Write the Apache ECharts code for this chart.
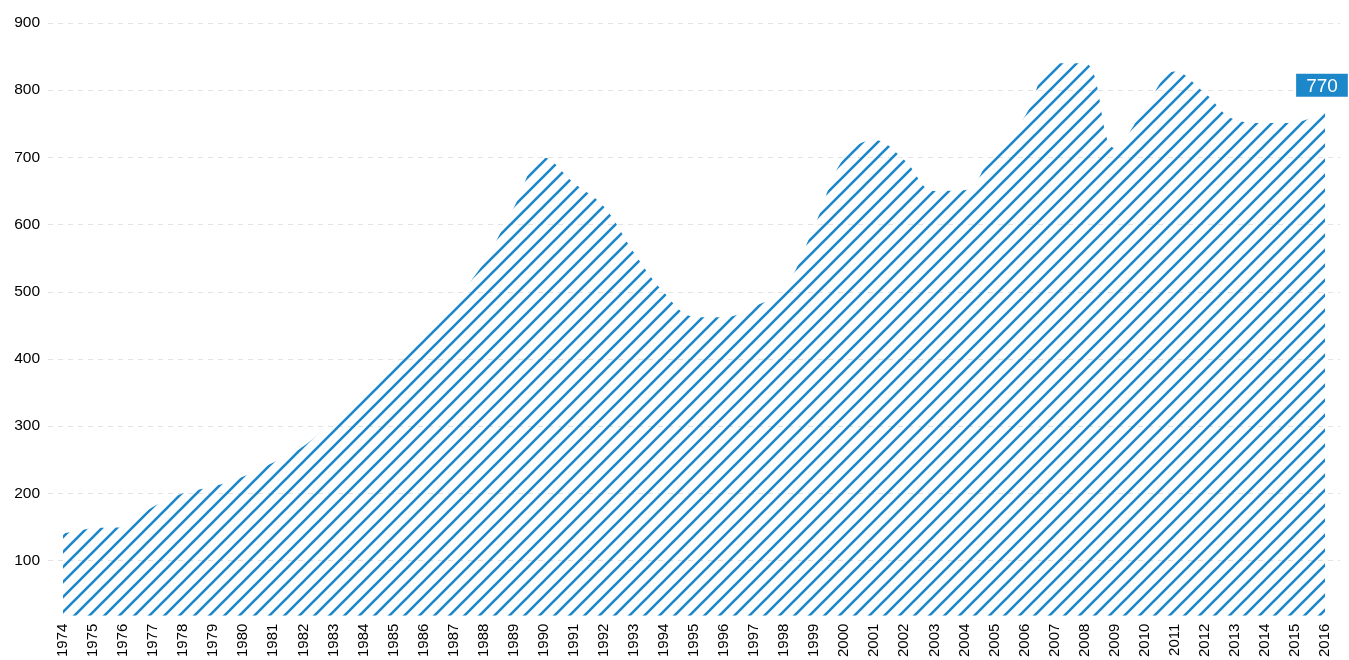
<!DOCTYPE html>
<html>
<head>
<meta charset="utf-8">
<script src="https://cdn.jsdelivr.net/npm/echarts@6/dist/echarts.min.js"></script>
<style>
html,body{margin:0;padding:0;background:#fff;}
#chart{width:1349px;height:660px;}
</style>
</head>
<body>
<div id="chart"></div>
<script>
const years = ['1974','1975','1976','1977','1978','1979','1980','1981','1982','1983','1984','1985','1986','1987','1988','1989','1990','1991','1992','1993','1994','1995','1996','1997','1998','1999','2000','2001','2002','2003','2004','2005','2006','2007','2008','2009','2010','2011','2012','2013','2014','2015','2016'];
const values = [140,148,150,180,200,210,225,246,270,310,352,390,433,484,543,625,700,662,627,558,499,463,462,478,505,597,700,726,696,650,651,711,760,840,840,714,772,828,796,756,751,752,770];
const yTicks = [100,200,300,400,500,600,700,800,900];
const lastLabel = '770';

const BLUE = '#1c87c9';
function hatch(){
  const s = 15;
  const c = document.createElement('canvas');
  c.width = s; c.height = s;
  const ctx = c.getContext('2d');
  ctx.strokeStyle = BLUE;
  ctx.lineWidth = 2.6;
  ctx.beginPath();
  ctx.moveTo(0, s); ctx.lineTo(s, 0);
  ctx.moveTo(-2, 2); ctx.lineTo(2, -2);
  ctx.moveTo(s - 2, s + 2); ctx.lineTo(s + 2, s - 2);
  ctx.stroke();
  return c;
}

const seriesData = values.map((v, i) => i === values.length - 1 ? {
  value: v,
  label: {
    show: true, position: 'top', distance: 13, offset: [-3, 0],
    formatter: lastLabel,
    backgroundColor: BLUE, color: '#fff',
    fontSize: 19, fontFamily: 'Liberation Sans, Arial, sans-serif',
    padding: [3, 10, 1, 10], lineHeight: 19
  }
} : v);

const chart = echarts.init(document.getElementById('chart'), null, {renderer: 'canvas'});
chart.setOption({
  animation: false,
  grid: {left: 48, right: 9, top: 23, bottom: 43, containLabel: false},
  xAxis: {
    type: 'category', data: years, boundaryGap: true,
    axisLine: {show: false}, axisTick: {show: false},
    axisLabel: {rotate: 90, margin: 8, interval: 0, color: '#000', fontSize: 15, fontFamily: 'Liberation Sans, Arial, sans-serif'},
    splitLine: {show: false}
  },
  yAxis: {
    type: 'value', min: 18, max: 900, splitNumber: 9,
    axisLine: {show: false}, axisTick: {show: false},
    axisLabel: {
      showMinLabel: false, margin: 8, color: '#000', fontSize: 15.5, fontFamily: 'Liberation Sans, Arial, sans-serif',
      formatter: v => yTicks.indexOf(v) >= 0 ? String(v) : ''
    },
    splitLine: {show: true, showMinLine: false, lineStyle: {color: '#e3e3e3', type: [5, 5], width: 1}}
  },
  series: [{
    type: 'line', data: seriesData, smooth: 0.4,
    symbol: 'circle', symbolSize: 1, showSymbol: true,
    itemStyle: {color: 'rgba(0,0,0,0)'},
    lineStyle: {width: 0, opacity: 0},
    areaStyle: {color: {image: hatch(), repeat: 'repeat'}, opacity: 1},
    emphasis: {disabled: true}
  }]
});
</script>
</body>
</html>
